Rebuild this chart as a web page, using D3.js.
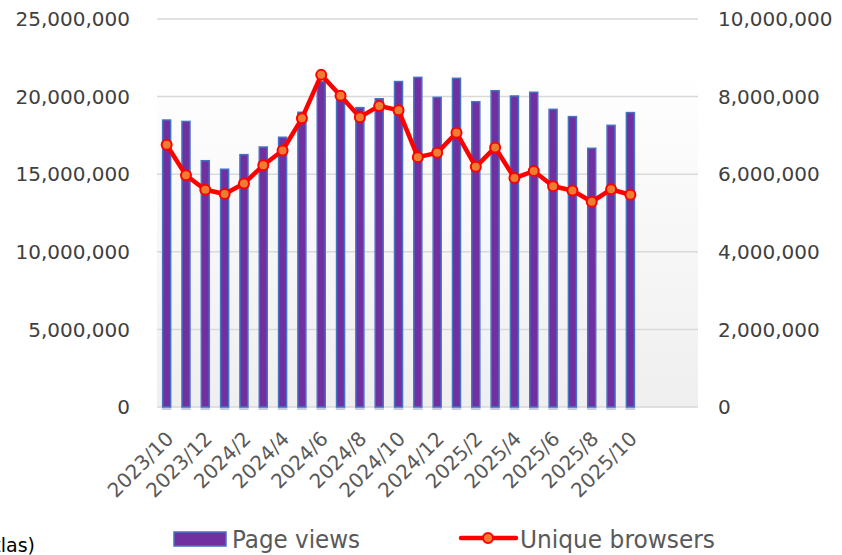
<!DOCTYPE html>
<html>
<head>
<meta charset="utf-8">
<script src="https://cdn.jsdelivr.net/npm/d3@7"></script>
<style>
body { margin: 0; background: #fff; }
text { font-family: "DejaVu Sans", Verdana, sans-serif; }
</style>
</head>
<body>
<script>
var w = 842;
var h = 555;

// data
var months = ["2023/10","2023/11","2023/12","2024/1","2024/2","2024/3","2024/4","2024/5","2024/6","2024/7","2024/8","2024/9","2024/10","2024/11","2024/12","2025/1","2025/2","2025/3","2025/4","2025/5","2025/6","2025/7","2025/8","2025/9","2025/10"];
var pageViews = [18490000,18400000,15870000,15320000,16260000,16750000,17380000,18990000,20960000,19780000,19290000,19860000,20970000,21240000,19950000,21180000,19670000,20380000,20040000,20280000,19180000,18710000,16670000,18150000,18970000];
var uniqueBrowsers = [6760000,5970000,5600000,5490000,5760000,6230000,6610000,7440000,8560000,8020000,7470000,7760000,7650000,6440000,6550000,7070000,6190000,6690000,5900000,6080000,5690000,5580000,5290000,5610000,5470000];
var leftTicks = [0,5000000,10000000,15000000,20000000,25000000];
var rightTicks = [0,2000000,4000000,6000000,8000000,10000000];

var svg = d3.select("body").append("svg").attr("width", w).attr("height", h);

var pLeft = 157, pRight = 698, pTop = 19, pBottom = 407;
// the category axis has room for 28 months, only 25 are filled
var xS = d3.scaleBand().domain(months).range([pLeft, pLeft + (pRight - pLeft) * 25 / 28]);
var yL = d3.scaleLinear().domain([0, 25000000]).range([pBottom, pTop]);
var yR = d3.scaleLinear().domain([0, 10000000]).range([pBottom, pTop]);
var fmt = d3.format(",");

var defs = svg.append("defs");
var grad = defs.append("linearGradient").attr("id", "bg").attr("x1", 0).attr("y1", 0).attr("x2", 0).attr("y2", 1);
grad.append("stop").attr("offset", "0%").attr("stop-color", "#ffffff");
grad.append("stop").attr("offset", "100%").attr("stop-color", "#efefef");

svg.append("rect").attr("x", pLeft).attr("y", 68).attr("width", pRight - pLeft).attr("height", pBottom - 68)
    .attr("fill", "url(#bg)");

// gridlines
svg.selectAll("line.grid").data(leftTicks).enter().append("line")
    .attr("class", "grid")
    .attr("x1", pLeft).attr("x2", pRight)
    .attr("y1", function(d) {return yL(d);}).attr("y2", function(d) {return yL(d);})
    .attr("stroke", "#d9d9d9").attr("stroke-width", 1.5);

// left axis labels
svg.selectAll("text.yl").data(leftTicks).enter().append("text")
    .attr("class", "yl")
    .attr("x", 130).attr("y", function(d) {return yL(d);})
    .attr("dy", "0.36em").attr("text-anchor", "end")
    .attr("font-size", "20px").attr("fill", "#404040")
    .text(function(d) {return fmt(d);});

// right axis labels
svg.selectAll("text.yr").data(rightTicks).enter().append("text")
    .attr("class", "yr")
    .attr("x", 718).attr("y", function(d) {return yR(d);})
    .attr("dy", "0.36em")
    .attr("font-size", "20px").attr("fill", "#404040")
    .text(function(d) {return fmt(d);});

// bars
var bw = 9.5;
svg.selectAll("rect.shadow").data(months).enter().append("rect")
    .attr("class", "shadow")
    .attr("x", function(d) {return xS(d) + xS.bandwidth() / 2 - bw / 2;})
    .attr("y", pBottom).attr("width", bw).attr("height", 3)
    .attr("fill", "#c5cde6");
svg.selectAll("rect.bar").data(months).enter().append("rect")
    .attr("class", "bar")
    .attr("x", function(d) {return xS(d) + xS.bandwidth() / 2 - bw / 2 + 0.75;})
    .attr("y", function(d, i) {return yL(pageViews[i]);})
    .attr("width", bw - 1.5)
    .attr("height", function(d, i) {return pBottom - yL(pageViews[i]);})
    .attr("fill", "#7030a0").attr("stroke", "#4472c4").attr("stroke-width", 1.5);

// line
var line = d3.line()
    .x(function(d, i) {return xS(months[i]) + xS.bandwidth() / 2;})
    .y(function(d) {return yR(d);});
svg.append("path").datum(uniqueBrowsers).attr("d", line)
    .attr("fill", "none").attr("stroke", "#ff0000").attr("stroke-width", 4.5)
    .attr("stroke-linejoin", "round");
svg.selectAll("circle.pt").data(uniqueBrowsers).enter().append("circle")
    .attr("class", "pt")
    .attr("cx", function(d, i) {return xS(months[i]) + xS.bandwidth() / 2;})
    .attr("cy", function(d) {return yR(d);})
    .attr("r", 5)
    .attr("fill", "#ed7d31").attr("stroke", "#ff0000").attr("stroke-width", 2);

// x labels, every second month
svg.selectAll("text.xl").data(months.filter(function(d, i) {return i % 2 === 0;})).enter().append("text")
    .attr("class", "xl")
    .attr("transform", function(d) {return "translate(" + (xS(d) + xS.bandwidth() / 2 + 8) + ",440) rotate(-45)";})
    .attr("text-anchor", "end")
    .attr("font-size", "20px").attr("fill", "#595959")
    .text(function(d) {return d;});

// legend
svg.append("rect").attr("x", 174).attr("y", 532).attr("width", 52).attr("height", 14)
    .attr("fill", "#7030a0").attr("stroke", "#4472c4").attr("stroke-width", 1.5);
svg.append("text").attr("x", 232).attr("y", 548)
    .attr("font-size", "24px").attr("fill", "#595959")
    .attr("textLength", 128).attr("lengthAdjust", "spacingAndGlyphs")
    .text("Page views");
svg.append("line").attr("x1", 461).attr("x2", 516).attr("y1", 538).attr("y2", 538)
    .attr("stroke", "#ff0000").attr("stroke-width", 4.5).attr("stroke-linecap", "round");
svg.append("circle").attr("cx", 488).attr("cy", 538).attr("r", 5)
    .attr("fill", "#ed7d31").attr("stroke", "#ff0000").attr("stroke-width", 2);
svg.append("text").attr("x", 520).attr("y", 548)
    .attr("font-size", "24px").attr("fill", "#595959")
    .attr("textLength", 195).attr("lengthAdjust", "spacingAndGlyphs")
    .text("Unique browsers");

// cut-off note at the bottom left
svg.append("text").attr("x", 35).attr("y", 552).attr("text-anchor", "end")
    .attr("font-family", "'Liberation Sans', Arial, sans-serif")
    .attr("font-size", "19px").attr("fill", "#000")
    .text("(Atlas)");
</script>
</body>
</html>
